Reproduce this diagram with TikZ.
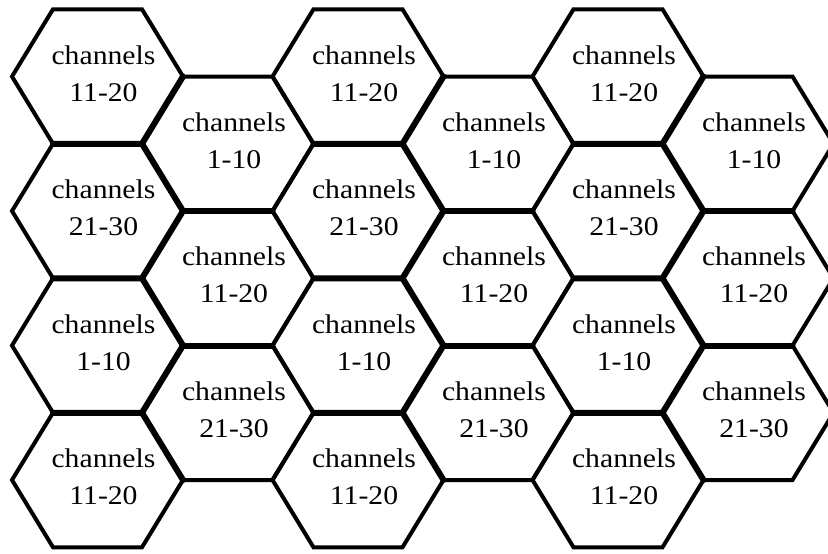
\documentclass[tikz,border=0pt]{standalone}
\usepackage{fontspec}
\setmainfont[FakeStretch=1.1]{Liberation Serif}
\usetikzlibrary{calc}
\begin{document}
\begin{tikzpicture}[x=1pt,y=-1pt,
  hexline/.style={line width=4pt, line join=miter, draw=black},
  thickedge/.style={line width=6pt, line join=miter, line cap=round, draw=black},
  cell/.style={align=center, inner sep=0pt, xshift=6pt, yshift=3pt,
    font=\fontsize{27}{37}\selectfont}]
\useasboundingbox (0,0) rectangle (828,554);
\fill[white] (0,0) rectangle (828,554);
\clip (0,0) rectangle (828,554);
\def\R{85.5}\def\A{44.5}\def\H{67.25}
\foreach \cx/\cy/\lab/\nm in {
  97.5/76.5/11-20/a1, 97.5/211/21-30/a2, 97.5/345.5/1-10/a3, 97.5/480/11-20/a4,
  228/143.75/1-10/b1, 228/278.25/11-20/b2, 228/412.75/21-30/b3,
  358/76.5/11-20/c1, 358/211/21-30/c2, 358/345.5/1-10/c3, 358/480/11-20/c4,
  488/143.75/1-10/d1, 488/278.25/11-20/d2, 488/412.75/21-30/d3,
  618/76.5/11-20/e1, 618/211/21-30/e2, 618/345.5/1-10/e3, 618/480/11-20/e4,
  748/143.75/1-10/f1, 748/278.25/11-20/f2, 748/412.75/21-30/f3}{
  \coordinate (p\nm) at (\cx,\cy);
  \draw[hexline] ($(p\nm)+(-\R,0)$) -- ($(p\nm)+(-\A,-\H)$) -- ($(p\nm)+(\A,-\H)$)
     -- ($(p\nm)+(\R,0)$) -- ($(p\nm)+(\A,\H)$) -- ($(p\nm)+(-\A,\H)$) -- cycle;
  \node[cell] (t\nm) at (p\nm) {channels\\\lab};
}
% heavier shared edges
\foreach \nm in {a1,a2,a3,c1,c2,c3,e1,e2,e3}{
  \draw[thickedge] ($(p\nm)+(-\A,\H)$) -- ($(p\nm)+(\A,\H)$) -- ($(p\nm)+(\R,0)$);
  \draw[thickedge] ($(p\nm)+(\A,\H)$) -- ($(p\nm)+(\R,2*\H)$);
}
\foreach \nm in {b1,b2,d1,d2,f1,f2}{
  \draw[thickedge] ($(p\nm)+(-\A,\H)$) -- ($(p\nm)+(\A,\H)$);
}
\end{tikzpicture}
\end{document}
